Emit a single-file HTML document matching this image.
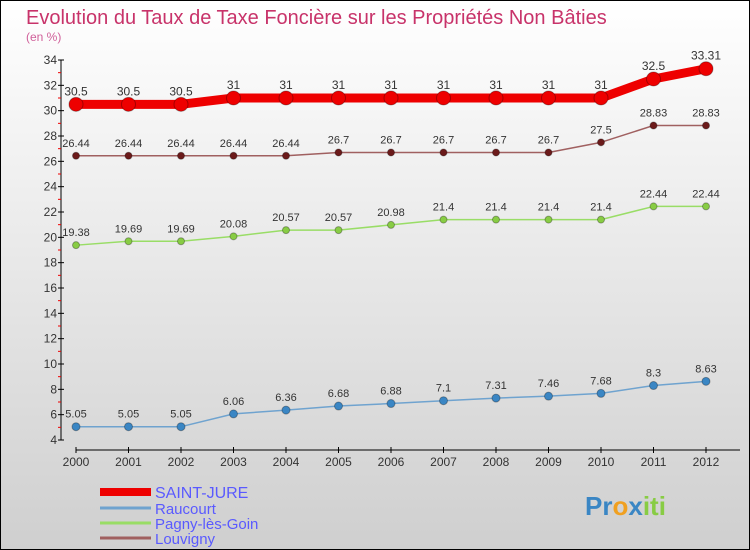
<!DOCTYPE html>
<html><head><meta charset="utf-8"><style>
body{margin:0}
#c{width:750px;height:550px;position:relative;box-sizing:border-box;border:1px solid #000;background:linear-gradient(#ffffff,#cfcfcf);font-family:"Liberation Sans",sans-serif;overflow:hidden}
</style></head><body>
<div id="c">
<svg id="s" width="750" height="550" style="position:absolute;left:-1px;top:-1px"></svg>
</div>
<script>
const years=["2000","2001","2002","2003","2004","2005","2006","2007","2008","2009","2010","2011","2012"];
const saintJure=[30.5,30.5,30.5,31,31,31,31,31,31,31,31,32.5,33.31];
const raucourt=[5.05,5.05,5.05,6.06,6.36,6.68,6.88,7.1,7.31,7.46,7.68,8.3,8.63];
const pagny=[19.38,19.69,19.69,20.08,20.57,20.57,20.98,21.4,21.4,21.4,21.4,22.44,22.44];
const louvigny=[26.44,26.44,26.44,26.44,26.44,26.7,26.7,26.7,26.7,26.7,27.5,28.83,28.83];
const yTicks=[4,6,8,10,12,14,16,18,20,22,24,26,28,30,32,34];
const seriesNames=["SAINT-JURE","Raucourt","Pagny-lès-Goin","Louvigny"];
const NS="http://www.w3.org/2000/svg",s=document.getElementById('s');
const X=i=>76+i*52.5, Y=v=>440-(v-4)*(380/30);
function el(t,a,p){const e=document.createElementNS(NS,t);for(const k in a)e.setAttribute(k,a[k]);(p||s).appendChild(e);return e;}
let t=el('text',{x:26,y:24,'font-size':20,fill:'#c8336a'});t.textContent="Evolution du Taux de Taxe Foncière sur les Propriétés Non Bâties";

t=el('text',{x:26,y:41,'font-size':12,fill:'#d0609a'});t.textContent="(en %)";

let a=el('line',{x1:61,y1:Y(34),x2:61,y2:Y(4),stroke:'#000'});

yTicks.forEach(v=>{el('line',{x1:58,x2:64,y1:Y(v),y2:Y(v),stroke:'#000'});
 if(v<34){el('line',{x1:58,x2:61,y1:Y(v+1),y2:Y(v+1),stroke:'#e00'});}
 const tt=el('text',{x:57,y:Y(v)+4,'font-size':12,'text-anchor':'end',fill:'#333'});tt.textContent=v;
 });
a=el('line',{x1:X(0),y1:450,x2:740,y2:450,stroke:'#000'});

years.forEach((y,i)=>{el('line',{x1:X(i),x2:X(i),y1:447,y2:453,stroke:'#000'});
 const tt=el('text',{x:X(i),y:466,'font-size':12,'text-anchor':'middle',fill:'#333'});tt.textContent=y;
 });
function series(d,color,w,r,dot,name,fs){
 const g=el('g',{});
 el('polyline',{points:d.map((v,i)=>X(i)+','+Y(v)).join(' '),fill:'none',stroke:color,'stroke-width':w,'stroke-linejoin':'round'},g);
 d.forEach((v,i)=>{const c=el('circle',{cx:X(i),cy:Y(v),r:r,fill:dot,stroke:'rgba(0,0,0,0.3)'},g);
  
  const tt=el('text',{x:X(i),y:Y(v)-9,'font-size':fs,'text-anchor':'middle',fill:'#333'},g);tt.textContent=v;});
}
series(saintJure,'#e00',9,7,'#e00','series-saint-jure',12);
series(louvigny,'#a06060',1.5,3.5,'#6b1a1a','series-louvigny',11);
series(pagny,'#99dd66',1.5,3.5,'#88cc44','series-pagny',11);
series(raucourt,'#6fa3cf',1.5,4,'#3a86c4','series-raucourt',11);
const lc=['#e00','#6fa3cf','#99dd66','#a06060'],lw=[8,3,3,3],ly=[492,508,523,538];
seriesNames.forEach((n,i)=>{const g=el('g',{});
 el('line',{x1:100,x2:151,y1:ly[i],y2:ly[i],stroke:lc[i],'stroke-width':lw[i]},g);
 const tt=el('text',{x:155,y:ly[i]+6,'font-size':i==0?16:15,fill:'#5a5aff'},g);tt.textContent=n;});
const lg=el('text',{x:585,y:515,'font-size':26,'font-weight':'bold',fill:'#3a86c4'});
lg.innerHTML='<tspan fill="#3a86c4">Pr</tspan><tspan fill="#f0a020">o</tspan><tspan fill="#3a86c4">x</tspan><tspan fill="#88cc44">iti</tspan>';

</script>
</body></html>
